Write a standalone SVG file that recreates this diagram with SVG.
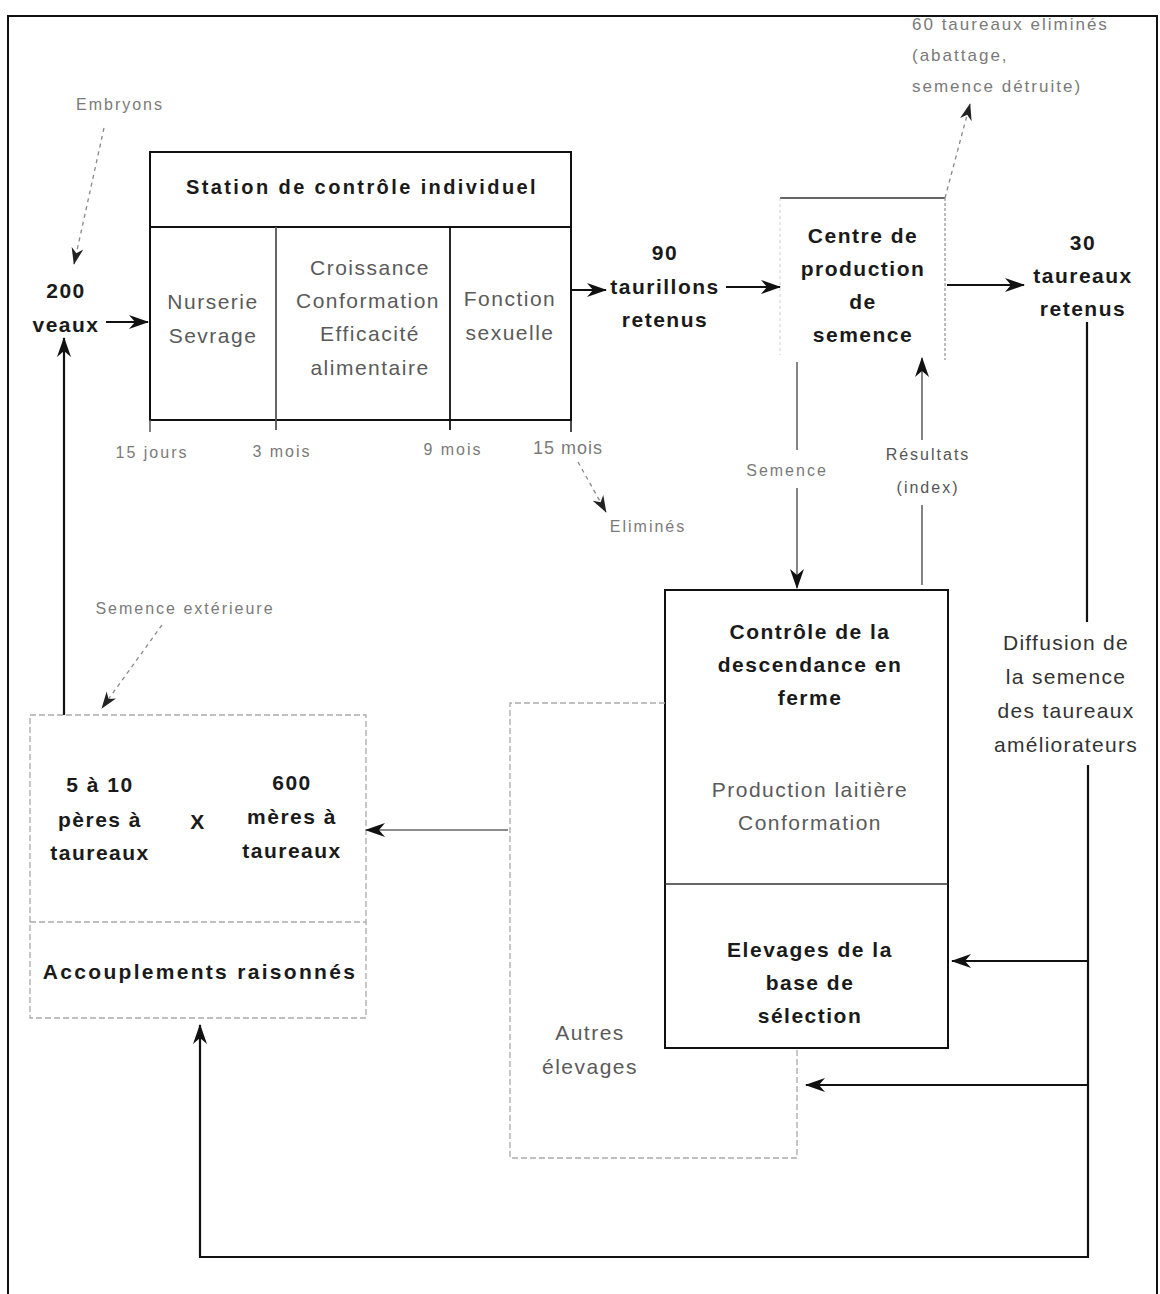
<svg xmlns="http://www.w3.org/2000/svg" width="1160" height="1294" viewBox="0 0 1160 1294">
<defs>
<marker id="ah" viewBox="0 0 20 14" refX="19" refY="7" markerWidth="20" markerHeight="14" markerUnits="userSpaceOnUse" orient="auto">
<path d="M0,0 L20,7 L0,14 L6,7 z" fill="#111"/>
</marker>
<marker id="ahs" viewBox="0 0 20 14" refX="19" refY="7" markerWidth="17" markerHeight="13" markerUnits="userSpaceOnUse" orient="auto">
<path d="M0,0 L20,7 L0,14 L6,7 z" fill="#222"/>
</marker>
<style>
text{font-family:"Liberation Sans",Arial,sans-serif;text-anchor:middle}
.b{font-size:21px;font-weight:bold;fill:#1a1a1a;letter-spacing:1.5px}
.g{font-size:21px;fill:#5a5a5a;letter-spacing:1.5px}
.gd{font-size:21px;fill:#333;letter-spacing:1.3px}
.s{font-size:16px;fill:#7a7a7a;letter-spacing:2px}
.box{fill:none;stroke:#111;stroke-width:2}
.faint{fill:none;stroke:#aaa;stroke-width:1.3;stroke-dasharray:6,3}
.ln{fill:none;stroke:#111;stroke-width:2.2}
.lg{fill:none;stroke:#666;stroke-width:1.6}
.dash{fill:none;stroke:#888;stroke-width:1.3;stroke-dasharray:4,4}
</style>
</defs>
<rect width="1160" height="1294" fill="#fff"/>
<path d="M8,1300 V16 H1157 V1300" fill="none" stroke="#111" stroke-width="2"/>

<g id="embryons">
<text class="s" x="120" y="110">Embryons</text>
</g>

<g id="veaux">
<text class="b" x="66" y="298">200</text>
<text class="b" x="66" y="332">veaux</text>
</g>

<g id="station">
<rect class="box" x="150" y="152" width="421" height="268"/>
<line x1="150" y1="227" x2="571" y2="227" stroke="#111" stroke-width="1.8"/>
<line x1="276" y1="227" x2="276" y2="430" stroke="#555" stroke-width="1.8"/>
<line x1="450" y1="227" x2="450" y2="430" stroke="#111" stroke-width="1.8"/>
<line x1="150" y1="420" x2="150" y2="432" stroke="#555" stroke-width="1.5"/>
<line x1="571" y1="420" x2="571" y2="432" stroke="#111" stroke-width="1.5"/>
<text class="b" x="362" y="194" style="font-size:20px;letter-spacing:2.4px">Station de contrôle individuel</text>
<text class="g" x="213" y="309">Nurserie</text>
<text class="g" x="213" y="343">Sevrage</text>
<text class="g" x="370" y="275">Croissance</text>
<text class="g" x="368" y="308">Conformation</text>
<text class="g" x="370" y="341">Efficacité</text>
<text class="g" x="370" y="375">alimentaire</text>
<text class="g" x="510" y="306">Fonction</text>
<text class="g" x="510" y="340">sexuelle</text>
<text class="s" x="152" y="458">15 jours</text>
<text class="s" x="282" y="457">3 mois</text>
<text class="s" x="453" y="455">9 mois</text>
<text class="s" x="568" y="454" style="font-size:18px;letter-spacing:1px">15 mois</text>
</g>

<g id="elimines">
<text class="s" x="648" y="532">Eliminés</text>
</g>

<g id="taurillons">
<text class="b" x="665" y="260">90</text>
<text class="b" x="665" y="294">taurillons</text>
<text class="b" x="665" y="327">retenus</text>
</g>

<g id="centre">
<line x1="780" y1="198" x2="945" y2="198" stroke="#333" stroke-width="1.3"/>
<line x1="780" y1="198" x2="780" y2="355" stroke="#ccc" stroke-width="1" stroke-dasharray="3,3"/>
<line x1="945" y1="198" x2="945" y2="360" stroke="#999" stroke-width="1.3" stroke-dasharray="3,2"/>
<text class="b" x="863" y="243">Centre de</text>
<text class="b" x="863" y="276">production</text>
<text class="b" x="863" y="309">de</text>
<text class="b" x="863" y="342">semence</text>
</g>

<g id="taureaux-elimines">
<text class="s" x="912" y="30" style="text-anchor:start;font-size:17px">60 taureaux eliminés</text>
<text class="s" x="912" y="61" style="text-anchor:start;font-size:17px">(abattage,</text>
<text class="s" x="912" y="92" style="text-anchor:start;font-size:17px">semence détruite)</text>
</g>

<g id="taureaux-retenus">
<text class="b" x="1083" y="250">30</text>
<text class="b" x="1083" y="283">taureaux</text>
<text class="b" x="1083" y="316">retenus</text>
</g>

<g id="diffusion">
<text class="gd" x="1066" y="650">Diffusion de</text>
<text class="gd" x="1066" y="684">la semence</text>
<text class="gd" x="1066" y="718">des taureaux</text>
<text class="gd" x="1066" y="752">améliorateurs</text>
</g>

<g id="semence-label">
<text class="s" x="787" y="476">Semence</text>
</g>
<g id="resultats-label">
<text class="s" x="928" y="460" style="fill:#555">Résultats</text>
<text class="s" x="928" y="493" style="fill:#555">(index)</text>
</g>

<g id="controle">
<rect class="box" x="665" y="590" width="283" height="458"/>
<line x1="665" y1="884" x2="948" y2="884" stroke="#333" stroke-width="1.5"/>
<text class="b" x="810" y="639">Contrôle de la</text>
<text class="b" x="810" y="672">descendance en</text>
<text class="b" x="810" y="705">ferme</text>
<text class="g" x="810" y="797">Production laitière</text>
<text class="g" x="810" y="830">Conformation</text>
<text class="b" x="810" y="957">Elevages de la</text>
<text class="b" x="810" y="990">base de</text>
<text class="b" x="810" y="1023">sélection</text>
</g>

<g id="autres">
<path class="faint" d="M665,703 H510 V1158 H797 V1048"/>
<text class="g" x="590" y="1040">Autres</text>
<text class="g" x="590" y="1074">élevages</text>
</g>

<g id="accouplements">
<rect class="faint" x="30" y="715" width="336" height="303"/>
<line class="faint" x1="30" y1="922" x2="366" y2="922"/>
<text class="b" x="100" y="792">5 à 10</text>
<text class="b" x="100" y="827">pères à</text>
<text class="b" x="100" y="860">taureaux</text>
<text class="b" x="198" y="829">X</text>
<text class="b" x="292" y="790">600</text>
<text class="b" x="292" y="824">mères à</text>
<text class="b" x="292" y="858">taureaux</text>
<text class="b" x="200" y="979" style="letter-spacing:2.3px">Accouplements raisonnés</text>
</g>

<g id="semence-ext">
<text class="s" x="185" y="614">Semence extérieure</text>
</g>

<g id="connectors">
<path class="dash" d="M104,128 L74,264" marker-end="url(#ahs)"/>
<path class="ln" d="M106,322 H148" marker-end="url(#ah)"/>
<path class="ln" d="M64,715 V338" marker-end="url(#ah)"/>
<path class="ln" d="M571,290 H606" marker-end="url(#ah)"/>
<path class="ln" d="M726,287 H780" marker-end="url(#ah)"/>
<path class="dash" d="M945,198 L970,104" marker-end="url(#ahs)"/>
<path class="ln" d="M947,285 H1024" stroke="#555" marker-end="url(#ah)"/>
<path class="dash" d="M578,462 L606,512" marker-end="url(#ahs)"/>
<path class="lg" d="M797,362 V450"/>
<path class="lg" d="M797,488 V588" marker-end="url(#ah)"/>
<path class="lg" d="M922,585 V505"/>
<path class="lg" d="M922,440 V358" marker-end="url(#ah)"/>
<path class="ln" d="M1087,322 V622"/>
<path class="ln" d="M1088,765 V1257 H200 V1025" marker-end="url(#ah)"/>
<path class="ln" d="M1088,961 H952" marker-end="url(#ah)"/>
<path class="ln" d="M1088,1085 H806" marker-end="url(#ah)"/>
<path class="lg" d="M508,830 H366" marker-end="url(#ah)"/>
<path class="dash" d="M162,625 L102,708" marker-end="url(#ahs)"/>
</g>
</svg>
